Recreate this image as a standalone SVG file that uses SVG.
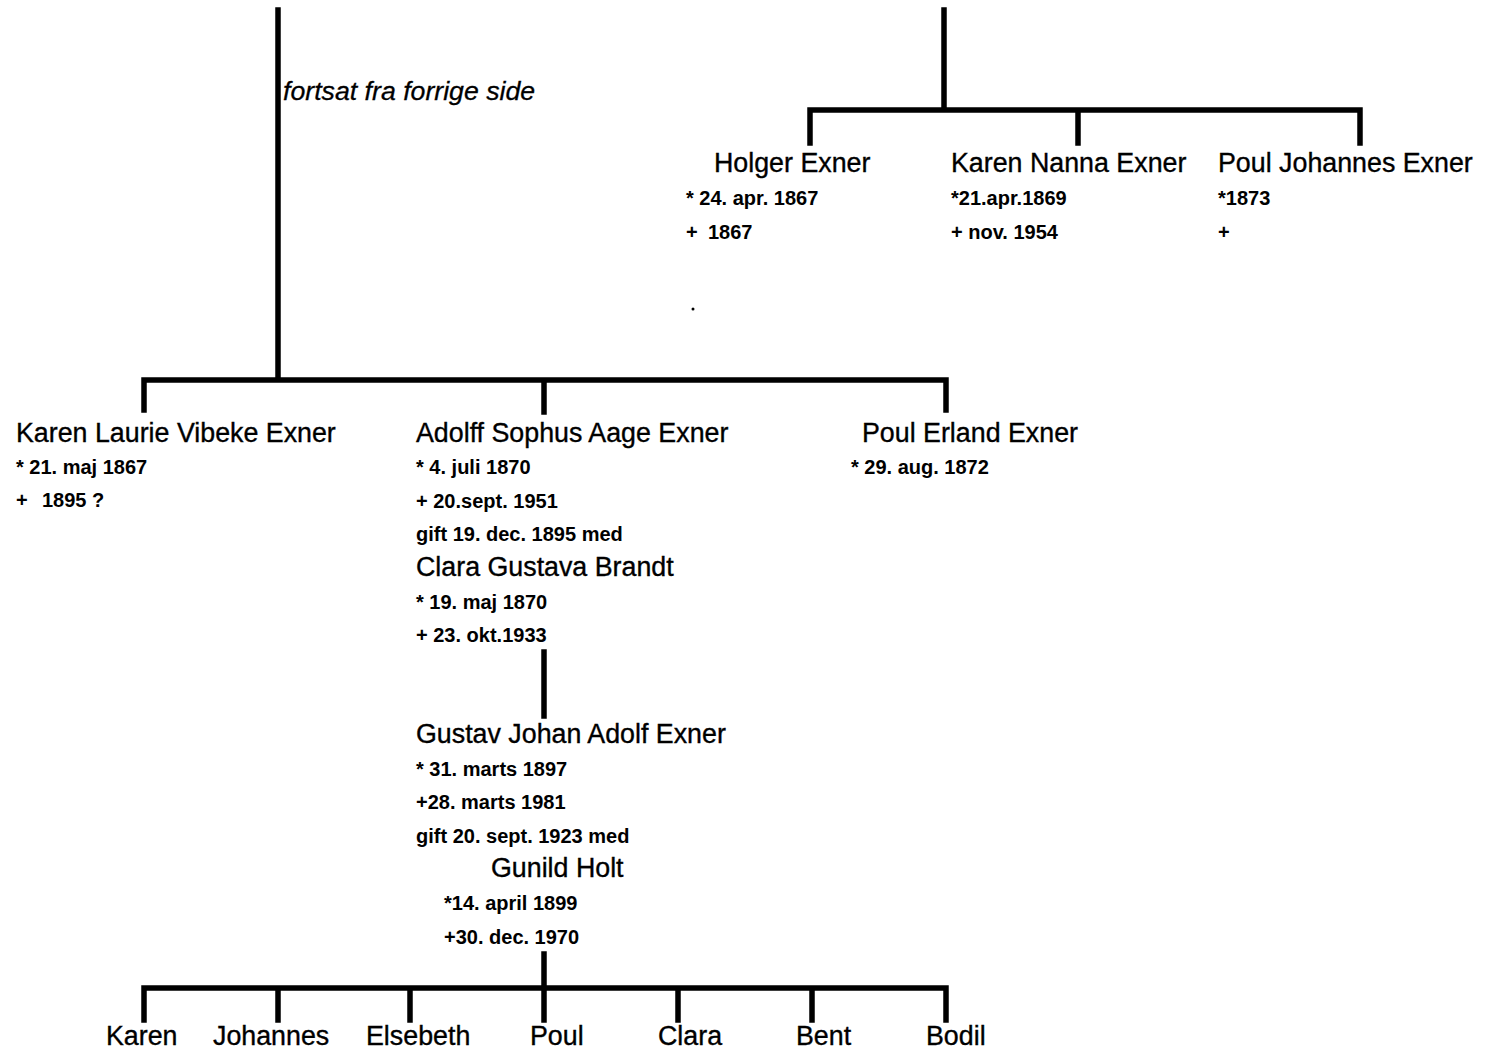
<svg xmlns="http://www.w3.org/2000/svg" width="1495" height="1050" viewBox="0 0 1495 1050">
<style>
.n{font-family:"Liberation Sans",Arial,sans-serif;font-size:26.8px;fill:#000;stroke:#000;stroke-width:0.35}
.d{font-family:"Liberation Sans",Arial,sans-serif;font-size:20px;font-weight:bold;fill:#000}
.i{font-family:"Liberation Sans",Arial,sans-serif;font-size:26.7px;font-style:italic;fill:#000;stroke:#000;stroke-width:0.3}
.c{stroke:#000;stroke-width:5.5;fill:none;stroke-linecap:square}
</style>
<rect width="1495" height="1050" fill="#fff"/>
<g id="connectors" class="c">
<path d="M278 10V380M144 380H946M144 380V410M544 380V412M946 380V410"/>
<path d="M944 10V110M810 110H1360M810 110V143M1078 110V143M1360 110V143"/>
<path d="M544 652V716"/>
<path d="M544 954V988M144 988H946M144 988V1020M278 988V1020M410 988V1020M544 988V1020M678 988V1020M812 988V1020M946 988V1020"/>
</g>
<text class="i" x="283" y="100">fortsat fra forrige side</text>
<circle cx="693" cy="309" r="1.5" fill="#000"/>
<g id="holger"><text class="n" x="714" y="172">Holger Exner</text><text class="d" x="686" y="205">* 24. apr. 1867</text><text class="d" y="239"><tspan x="686">+</tspan><tspan x="708">1867</tspan></text></g>
<g id="karen-nanna"><text class="n" x="951" y="172">Karen Nanna Exner</text><text class="d" x="951" y="205">*21.apr.1869</text><text class="d" x="951" y="239">+ nov. 1954</text></g>
<g id="poul-johannes"><text class="n" x="1218" y="172">Poul Johannes Exner</text><text class="d" x="1218" y="205">*1873</text><text class="d" x="1218" y="239">+</text></g>
<g id="karen-laurie"><text class="n" x="16" y="442">Karen Laurie Vibeke Exner</text><text class="d" x="16" y="474">* 21. maj 1867</text><text class="d" y="507"><tspan x="16">+</tspan><tspan x="42">1895 ?</tspan></text></g>
<g id="adolff"><text class="n" x="416" y="442">Adolff Sophus Aage Exner</text><text class="d" x="416" y="474">* 4. juli 1870</text><text class="d" x="416" y="508">+ 20.sept. 1951</text><text class="d" x="416" y="541">gift 19. dec. 1895 med</text><text class="n" x="416" y="576">Clara Gustava Brandt</text><text class="d" x="416" y="609">* 19. maj 1870</text><text class="d" x="416" y="642">+ 23. okt.1933</text></g>
<g id="poul-erland"><text class="n" x="862" y="442">Poul Erland Exner</text><text class="d" x="851" y="474">* 29. aug. 1872</text></g>
<g id="gustav"><text class="n" x="416" y="743">Gustav Johan Adolf Exner</text><text class="d" x="416" y="776">* 31. marts 1897</text><text class="d" x="416" y="809">+28. marts 1981</text><text class="d" x="416" y="843">gift 20. sept. 1923 med</text><text class="n" x="491" y="877">Gunild Holt</text><text class="d" x="444" y="910">*14. april 1899</text><text class="d" x="444" y="944">+30. dec. 1970</text></g>
<g id="karen"><text class="n" x="106" y="1045">Karen</text></g>
<g id="johannes"><text class="n" x="213" y="1045">Johannes</text></g>
<g id="elsebeth"><text class="n" x="366" y="1045">Elsebeth</text></g>
<g id="poul"><text class="n" x="530" y="1045">Poul</text></g>
<g id="clara"><text class="n" x="658" y="1045">Clara</text></g>
<g id="bent"><text class="n" x="796" y="1045">Bent</text></g>
<g id="bodil"><text class="n" x="926" y="1045">Bodil</text></g>
</svg>
